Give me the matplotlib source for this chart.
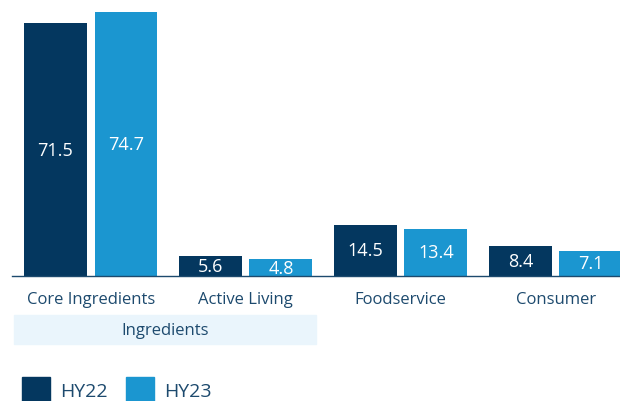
import matplotlib
matplotlib.use("Agg")
import matplotlib.pyplot as plt
import matplotlib.transforms as mtransforms
from matplotlib.patches import Rectangle
import numpy as np

categories = ["Core Ingredients", "Active Living", "Foodservice", "Consumer"]
hy22 = [71.5, 5.6, 14.5, 8.4]
hy23 = [74.7, 4.8, 13.4, 7.1]
series_names = ["HY22", "HY23"]
group_label = "Ingredients"

DARK = "#04375f"
LIGHT = "#1b96d0"
TEXT = "#1d4a6e"
BAND = "#eaf5fc"

plt.rcParams["font.family"] = ["Open Sans", "DejaVu Sans"]

W, H = 620, 402
fig = plt.figure(figsize=(W / 100, H / 100), dpi=100)
ax = fig.add_axes([12 / W, (H - 277) / H, 1 - 12 / W, 277 / H])

x = np.arange(len(categories))
bw = 0.406
off = 0.2274
b1 = ax.bar(x - off, hy22, bw, color=DARK)
b2 = ax.bar(x + off, hy23, bw, color=LIGHT)

for bars, vals in ((b1, hy22), (b2, hy23)):
    for r, v in zip(bars, vals):
        ax.text(r.get_x() + r.get_width() / 2, v / 2, f"{v}", ha="center",
                va="center", color="white", fontsize=13)

ax.set_xlim(-0.508, 3.415)
ax.set_ylim(0, 78.4)
for s in ["top", "right", "left"]:
    ax.spines[s].set_visible(False)
ax.spines["bottom"].set_color(TEXT)
ax.spines["bottom"].set_linewidth(1)
ax.set_yticks([])
ax.set_xticks(x)
ax.set_xticklabels(categories, fontsize=12, color=TEXT)
ax.tick_params(axis="x", length=0, pad=11)

# grouping band under first two categories
trans = mtransforms.blended_transform_factory(ax.transData, fig.transFigure)
x0, x1 = -0.495, 1.453
ax.add_patch(Rectangle((x0, (H - 345) / H), x1 - x0, 29 / H, transform=trans,
                       color=BAND, clip_on=False, zorder=0))
ax.text((x0 + x1) / 2, (H - 331) / H, group_label, transform=trans,
        ha="center", va="center", fontsize=12, color=TEXT)

# legend
for i, (name, col) in enumerate(zip(series_names, [DARK, LIGHT])):
    lx = 22 + i * 104
    fig.add_artist(Rectangle((lx / W, 0), 28 / W, 24 / H,
                             transform=fig.transFigure, color=col))
    fig.text((lx + 38) / W, (H - 392) / H, name, ha="left", va="center",
             fontsize=14, color=TEXT)

fig.savefig("out.png", dpi=100)
